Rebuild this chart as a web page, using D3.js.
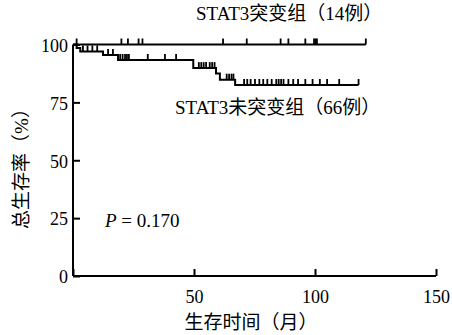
<!DOCTYPE html>
<html>
<head>
<meta charset="utf-8">
<script src="https://cdn.jsdelivr.net/npm/d3@7"></script>
<style>
  html, body { margin: 0; padding: 0; background: #fff; }
  svg text { fill: #000; }
</style>
</head>
<body>
<svg id="chart" width="452" height="335"></svg>
<script>
// ---- data ----
const xTicks = [0, 50, 100, 150];
const xTickLabels = ["", "50", "100", "150"];
const yTicks = [0, 25, 50, 75, 100];
const yTickLabels = ["0", "25", "50", "75", "100"];

// STAT3 mutated group (14 cases)
const mutStepTimes = [0];
const mutStepSurv = [100];
const mutEnd = 121;
const mutCensor = [1.5, 20, 22.7, 27.1, 28.7, 62, 71.8, 85.8, 89, 96, 99.6, 100.2, 100.8, 121];

// STAT3 non-mutated group (66 cases)
const wtStepTimes = [0, 1.5, 3, 12.4, 18.6, 49.7, 59.1, 60.7, 67];
const wtStepSurv = [100, 98.5, 97.0, 95.5, 93.3, 89.8, 87.5, 84.8, 82.5];
const wtEnd = 118;
const wtCensor = [4.1, 6, 8, 10, 14.5, 16.5, 19.5, 20.5, 21.5, 22.3, 23.1, 30.9, 38, 42.6,
  52, 53, 54, 55, 56.5, 57.5, 58.5, 63.5, 64.5, 65.5, 66.3,
  70.7, 72, 73.4, 75.2, 77, 78.6, 80.3, 82.1, 84, 85, 86, 87, 89, 91, 93, 96, 99, 102, 105, 110, 118];

const labelMut = "STAT3突变组（14例）";
const labelWt = "STAT3未突变组（66例）";
const pText = ["P", " = 0.170"];
const xTitle = "生存时间（月）";
const yTitle = "总生存率（%）";

// ---- drawing ----
const svg = d3.select("#chart");
const FONT = "'Liberation Serif', 'Times New Roman', 'Noto Sans CJK SC', serif";
const x = d3.scaleLinear().domain([0, 150]).range([73, 436]);
const y = d3.scaleLinear().domain([0, 100]).range([276, 44.5]);

// axes
const xAxis = d3.axisBottom(x).tickValues(xTicks).tickSize(-7).tickPadding(16)
  .tickFormat((d, i) => xTickLabels[i]);
const gx = svg.append("g").attr("transform", `translate(0,${y(0)})`).call(xAxis);
gx.select(".domain").attr("d", `M${x(0)},0H${x(150)}`).attr("stroke", "#000").attr("stroke-width", 2);
gx.selectAll(".tick line").attr("stroke", "#000").attr("stroke-width", 2);
gx.selectAll(".tick text").attr("font-family", FONT).attr("font-size", 18).attr("dy", "0.71em").attr("y", 14);

const yAxis = d3.axisLeft(y).tickValues(yTicks).tickSize(-7).tickPadding(5)
  .tickFormat((d, i) => yTickLabels[i]);
const gy = svg.append("g").attr("transform", `translate(${x(0)},0)`).call(yAxis);
gy.select(".domain").attr("d", `M0,${y(0)}V${y(100)}`).attr("stroke", "#000").attr("stroke-width", 2);
gy.selectAll(".tick line").attr("stroke", "#000").attr("stroke-width", 2);
gy.selectAll(".tick text").attr("font-family", FONT).attr("font-size", 18).attr("dy", "0.38em").attr("x", -5);

// KM curves
function survAt(times, surv, t) {
  let s = surv[0];
  for (let i = 0; i < times.length; i++) if (times[i] <= t) s = surv[i];
  return s;
}
const line = d3.line().x(d => x(d[0])).y(d => y(d[1])).curve(d3.curveStepAfter);
function drawCurve(times, surv, end, censor) {
  const pts = times.map((t, i) => [t, surv[i]]);
  pts.push([end, surv[surv.length - 1]]);
  svg.append("path").datum(pts).attr("d", line)
    .attr("fill", "none").attr("stroke", "#000").attr("stroke-width", 2);
  svg.append("g").selectAll("line").data(censor).join("line")
    .attr("x1", d => x(d)).attr("x2", d => x(d))
    .attr("y1", d => y(survAt(times, surv, d)))
    .attr("y2", d => y(survAt(times, surv, d)) - 6)
    .attr("stroke", "#000").attr("stroke-width", 1.8);
}
drawCurve(mutStepTimes, mutStepSurv, mutEnd, mutCensor);
drawCurve(wtStepTimes, wtStepSurv, wtEnd, wtCensor);

// labels
svg.append("text").attr("x", 196).attr("y", 19.5).attr("font-family", FONT).attr("font-size", 19).text(labelMut);
svg.append("text").attr("x", 175).attr("y", 113.5).attr("font-family", FONT).attr("font-size", 19).text(labelWt);

const pt = svg.append("text").attr("x", 105).attr("y", 227).attr("font-family", FONT).attr("font-size", 19);
pt.append("tspan").attr("font-style", "italic").text(pText[0]);
pt.append("tspan").text(pText[1]);

svg.append("text").attr("x", 251).attr("y", 329).attr("text-anchor", "middle")
  .attr("font-family", FONT).attr("font-size", 19).text(xTitle);
svg.append("text").attr("transform", "translate(28,164) rotate(-90)").attr("text-anchor", "middle")
  .attr("font-family", FONT).attr("font-size", 19).text(yTitle);
</script>
</body>
</html>
